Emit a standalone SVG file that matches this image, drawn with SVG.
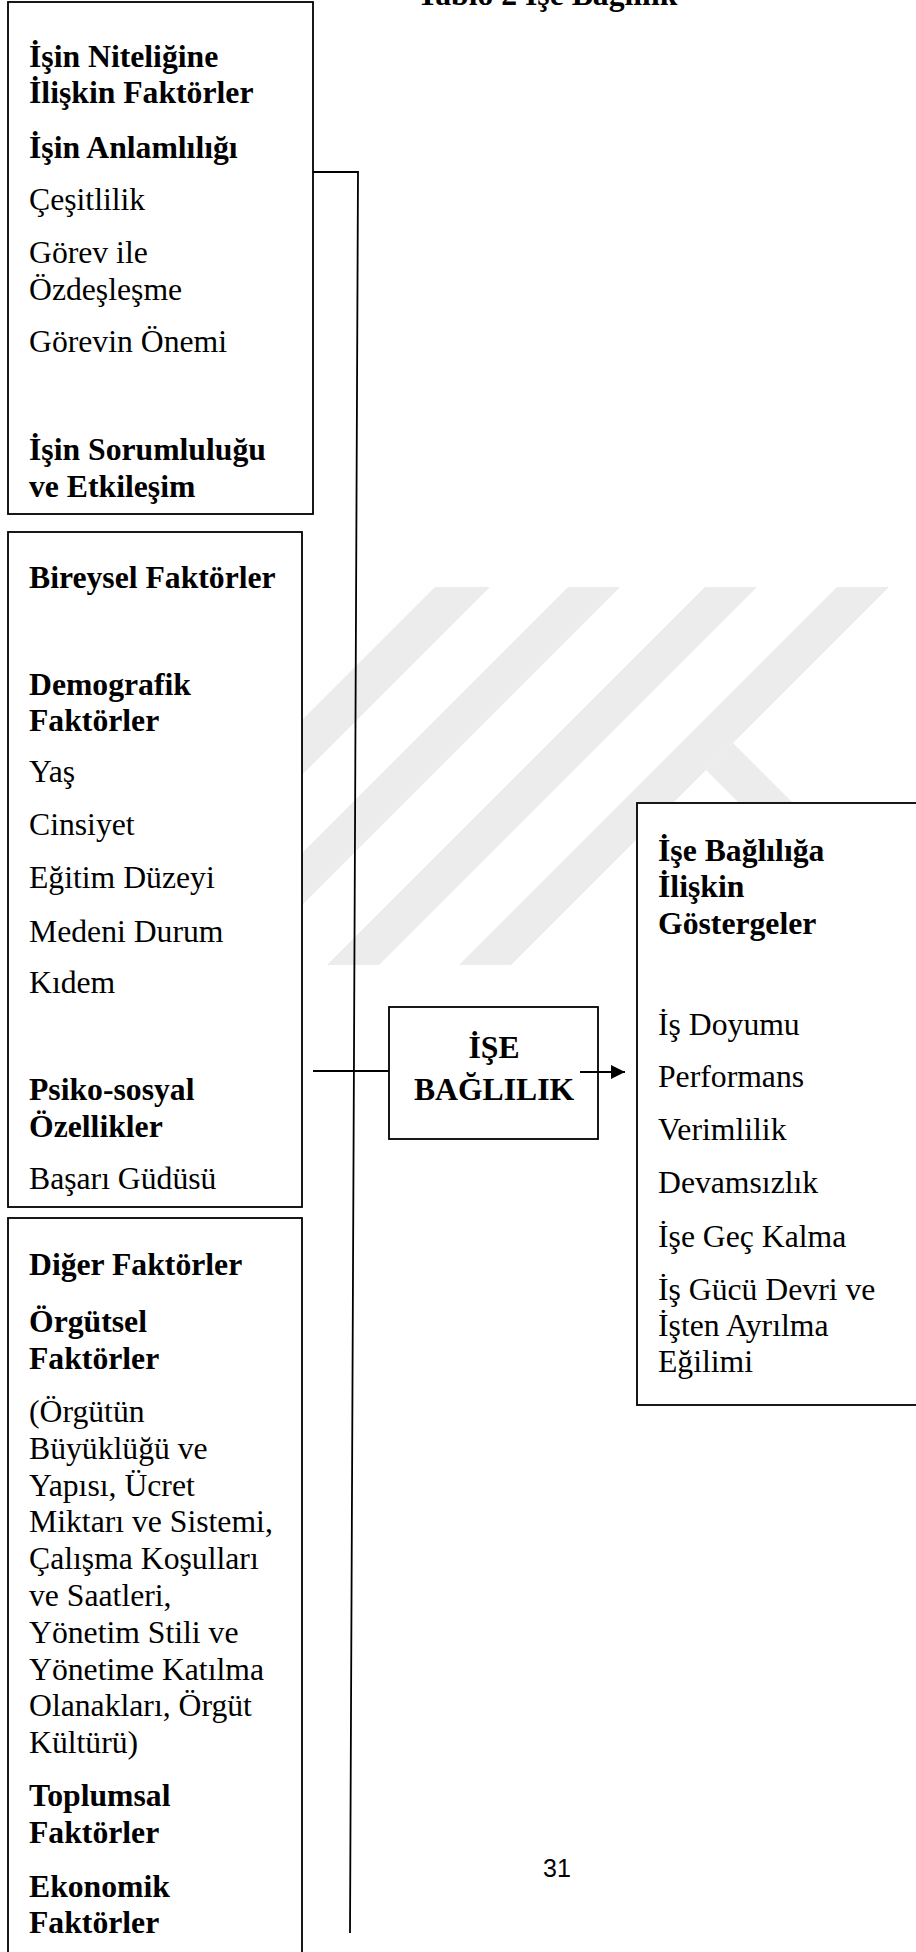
<svg xmlns="http://www.w3.org/2000/svg" width="916" height="1952" viewBox="0 0 916 1952">
<style>
text{font-family:"Liberation Serif","Times New Roman",serif;font-size:31.7px;fill:#000}
.b{font-weight:bold}
.c{text-anchor:middle}
.pg{font-family:"Liberation Sans",Arial,sans-serif;font-size:25px}
.box{fill:#fff;stroke:#000;stroke-width:1.8}
.ln{fill:none;stroke:#000;stroke-width:1.8}
.wm{fill:#ececec}
</style>
<defs>
<marker id="arr" viewBox="0 0 14 14" refX="14" refY="7" markerWidth="14" markerHeight="14" markerUnits="userSpaceOnUse" orient="auto">
<path d="M0,0 L14,7 L0,14 Z" fill="#000"/>
</marker>
</defs>
<rect width="916" height="1952" fill="#fff"/>
<g id="watermark">
<polygon class="wm" points="435,587 490,587 112,965 57,965"/>
<polygon class="wm" points="568,587 620,587 242,965 190,965"/>
<polygon class="wm" points="705,587 757,587 379,965 327,965"/>
<polygon class="wm" points="837,587 889,587 511,965 459,965"/>
<polygon class="wm" points="733,743 800,810 746,810 706,770"/>
</g>
<text id="title" class="b" x="417" y="5">Tablo 2 İşe Bağlılık</text>
<g id="node-isin-niteligi">
<rect class="box" x="8" y="2" width="305" height="512"/>
<text class="b" x="29" y="67">İşin Niteliğine</text>
<text class="b" x="29" y="103">İlişkin Faktörler</text>
<text class="b" x="29" y="158">İşin Anlamlılığı</text>
<text x="29" y="210">Çeşitlilik</text>
<text x="29" y="263">Görev ile</text>
<text x="29" y="300">Özdeşleşme</text>
<text x="29" y="352">Görevin Önemi</text>
<text class="b" x="29" y="460">İşin Sorumluluğu</text>
<text class="b" x="29" y="497">ve Etkileşim</text>
</g>
<g id="node-bireysel">
<rect class="box" x="8" y="532" width="294" height="675"/>
<text class="b" x="29" y="588">Bireysel Faktörler</text>
<text class="b" x="29" y="695">Demografik</text>
<text class="b" x="29" y="731">Faktörler</text>
<text x="29" y="782">Yaş</text>
<text x="29" y="835">Cinsiyet</text>
<text x="29" y="888">Eğitim Düzeyi</text>
<text x="29" y="942">Medeni Durum</text>
<text x="29" y="993">Kıdem</text>
<text class="b" x="29" y="1100">Psiko-sosyal</text>
<text class="b" x="29" y="1137">Özellikler</text>
<text x="29" y="1189">Başarı Güdüsü</text>
</g>
<g id="node-diger">
<rect class="box" x="8" y="1218" width="294" height="760"/>
<text class="b" x="29" y="1275">Diğer Faktörler</text>
<text class="b" x="29" y="1332">Örgütsel</text>
<text class="b" x="29" y="1369">Faktörler</text>
<text x="29" y="1422">(Örgütün</text>
<text x="29" y="1459">Büyüklüğü ve</text>
<text x="29" y="1496">Yapısı, Ücret</text>
<text x="29" y="1532">Miktarı ve Sistemi,</text>
<text x="29" y="1569">Çalışma Koşulları</text>
<text x="29" y="1606">ve Saatleri,</text>
<text x="29" y="1643">Yönetim Stili ve</text>
<text x="29" y="1680">Yönetime Katılma</text>
<text x="29" y="1716">Olanakları, Örgüt</text>
<text x="29" y="1753">Kültürü)</text>
<text class="b" x="29" y="1806">Toplumsal</text>
<text class="b" x="29" y="1843">Faktörler</text>
<text class="b" x="29" y="1897">Ekonomik</text>
<text class="b" x="29" y="1933">Faktörler</text>
</g>
<g id="node-ise-baglilik">
<rect class="box" x="389" y="1007" width="209" height="132"/>
<text class="b c" x="494" y="1058">İŞE</text>
<text class="b c" x="494" y="1100">BAĞLILIK</text>
</g>
<g id="node-gostergeler">
<rect class="box" x="637" y="803" width="290" height="602"/>
<text class="b" x="658" y="861">İşe Bağlılığa</text>
<text class="b" x="658" y="897">İlişkin</text>
<text class="b" x="658" y="934">Göstergeler</text>
<text x="658" y="1035">İş Doyumu</text>
<text x="658" y="1087">Performans</text>
<text x="658" y="1140">Verimlilik</text>
<text x="658" y="1193">Devamsızlık</text>
<text x="658" y="1247">İşe Geç Kalma</text>
<text x="658" y="1300">İş Gücü Devri ve</text>
<text x="658" y="1336">İşten Ayrılma</text>
<text x="658" y="1372">Eğilimi</text>
</g>
<g id="connectors">
<polyline class="ln" points="313,172 358,172 350,1933"/>
<line class="ln" x1="313" y1="1071" x2="389" y2="1071"/>
<line class="ln" x1="580" y1="1072" x2="625" y2="1072" marker-end="url(#arr)"/>
</g>
<text id="page-number" class="pg" x="543" y="1877">31</text>
</svg>
